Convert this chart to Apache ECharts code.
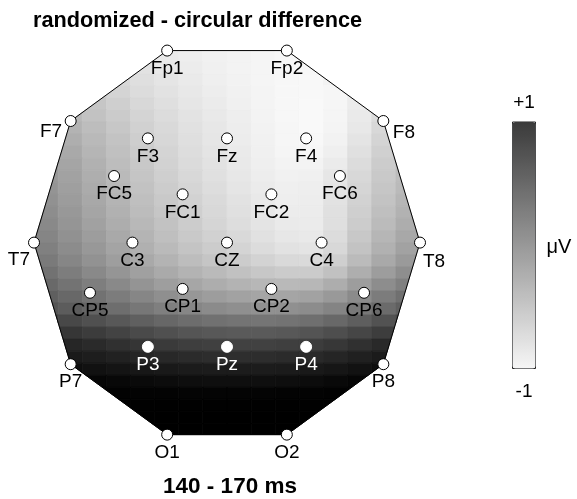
<!DOCTYPE html>
<html>
<head>
<meta charset="utf-8">
<script src="https://cdn.jsdelivr.net/npm/echarts@6/dist/echarts.min.js"></script>
<style>html,body{margin:0;padding:0;background:#fff}#c{width:577px;height:499px}</style>
</head>
<body>
<div id="c"></div>
<script>
// ---- data ----
const titleText = 'randomized - circular difference';
const windowText = '140 - 170 ms';
const unitText = 'μV';
const scaleLabels = ['+1', '-1'];
const scaleRange = [-1, 1];

const electrodeNames = ['Fp1','Fp2','F7','F3','Fz','F4','F8','FC5','FC1','FC2','FC6','T7','C3','CZ','C4','T8','CP5','CP1','CP2','CP6','P7','P3','Pz','P4','P8','O1','O2'];
const electrodeX = [-0.31,0.31,-0.81,-0.41,0,0.41,0.81,-0.585,-0.23,0.23,0.585,-1,-0.49,0,0.49,1,-0.71,-0.23,0.23,0.71,-0.81,-0.41,0,0.41,0.81,-0.31,0.31];
const electrodeY = [0.995,0.995,0.63,0.54,0.54,0.54,0.63,0.345,0.25,0.25,0.345,0,0,0,0,0,-0.26,-0.24,-0.24,-0.26,-0.63,-0.54,-0.54,-0.54,-0.63,-0.995,-0.995];
const outlineOrder = ['Fp1','Fp2','F8','T8','P8','O2','O1','P7','T7','F7'];

// sample grid of the interpolated map (head coordinates)
const gridX = [-0.9375,-0.8125,-0.6875,-0.5625,-0.4375,-0.3125,-0.1875,-0.0625,0.0625,0.1875,0.3125,0.4375,0.5625,0.6875,0.8125,0.9375];
const gridY = [0.96875,0.90625,0.84375,0.78125,0.71875,0.65625,0.59375,0.53125,0.46875,0.40625,0.34375,0.28125,0.21875,0.15625,0.09375,0.03125,
  -0.03125,-0.09375,-0.15625,-0.21875,-0.28125,-0.34375,-0.40625,-0.46875,-0.53125,-0.59375,-0.65625,-0.71875,-0.78125,-0.84375,-0.90625,-0.96875];
// map values in µV, one row per gridY, one column per gridX
const mapValues = [
 [null,null,null,null,-0.80,-0.84,-0.88,-0.91,-0.93,-0.95,-0.97,-0.96,null,null,null,null],
 [null,null,null,null,-0.76,-0.82,-0.86,-0.90,-0.93,-0.95,-0.97,-0.97,null,null,null,null],
 [null,null,null,-0.66,-0.73,-0.79,-0.84,-0.89,-0.92,-0.95,-0.97,-0.98,-0.93,null,null,null],
 [null,null,-0.54,-0.62,-0.70,-0.76,-0.82,-0.87,-0.91,-0.94,-0.97,-0.98,-0.96,-0.88,null,null],
 [null,null,-0.48,-0.57,-0.66,-0.73,-0.80,-0.85,-0.90,-0.94,-0.97,-0.99,-0.96,-0.86,null,null],
 [null,-0.34,-0.44,-0.53,-0.62,-0.70,-0.77,-0.83,-0.88,-0.93,-0.97,-0.99,-0.95,-0.84,-0.70,null],
 [null,-0.29,-0.39,-0.49,-0.59,-0.67,-0.75,-0.81,-0.87,-0.92,-0.96,-0.99,-0.94,-0.82,-0.66,null],
 [null,-0.24,-0.35,-0.45,-0.56,-0.65,-0.73,-0.80,-0.86,-0.91,-0.96,-0.98,-0.92,-0.78,-0.62,null],
 [null,-0.19,-0.31,-0.42,-0.53,-0.62,-0.71,-0.78,-0.84,-0.90,-0.95,-0.96,-0.89,-0.74,-0.58,null],
 [-0.06,-0.15,-0.27,-0.39,-0.50,-0.60,-0.69,-0.76,-0.83,-0.89,-0.93,-0.93,-0.85,-0.70,-0.54,-0.42],
 [-0.02,-0.12,-0.24,-0.36,-0.47,-0.57,-0.66,-0.74,-0.81,-0.87,-0.91,-0.90,-0.80,-0.66,-0.51,-0.39],
 [0.02,-0.09,-0.21,-0.33,-0.44,-0.54,-0.63,-0.71,-0.79,-0.85,-0.89,-0.88,-0.78,-0.63,-0.48,-0.36],
 [0.05,-0.06,-0.18,-0.30,-0.41,-0.51,-0.60,-0.68,-0.76,-0.83,-0.88,-0.87,-0.76,-0.60,-0.45,-0.32],
 [0.09,-0.02,-0.15,-0.27,-0.38,-0.48,-0.57,-0.66,-0.74,-0.81,-0.86,-0.86,-0.74,-0.57,-0.41,-0.28],
 [0.13,0.01,-0.11,-0.23,-0.34,-0.44,-0.54,-0.63,-0.71,-0.78,-0.84,-0.85,-0.73,-0.54,-0.37,-0.23],
 [0.17,0.05,-0.07,-0.19,-0.30,-0.41,-0.51,-0.59,-0.67,-0.75,-0.81,-0.83,-0.70,-0.50,-0.32,-0.18],
 [0.22,0.10,-0.02,-0.14,-0.26,-0.36,-0.46,-0.54,-0.62,-0.70,-0.76,-0.78,-0.66,-0.45,-0.27,-0.12],
 [0.28,0.16,0.04,-0.08,-0.19,-0.29,-0.39,-0.47,-0.54,-0.61,-0.67,-0.68,-0.57,-0.37,-0.19,-0.04],
 [0.36,0.25,0.13,0.01,-0.10,-0.20,-0.29,-0.36,-0.43,-0.49,-0.53,-0.53,-0.43,-0.24,-0.07,0.08],
 [0.45,0.35,0.24,0.13,0.02,-0.08,-0.16,-0.23,-0.29,-0.33,-0.35,-0.33,-0.23,-0.07,0.09,0.22],
 [0.55,0.46,0.36,0.26,0.16,0.07,-0.01,-0.07,-0.12,-0.15,-0.15,-0.12,-0.03,0.11,0.26,0.38],
 [0.66,0.58,0.49,0.40,0.31,0.23,0.16,0.11,0.07,0.05,0.06,0.10,0.18,0.30,0.43,0.54],
 [0.84,0.78,0.70,0.62,0.54,0.47,0.41,0.37,0.34,0.33,0.35,0.39,0.46,0.56,0.68,0.78],
 [null,0.96,0.90,0.83,0.76,0.70,0.65,0.62,0.60,0.60,0.62,0.66,0.72,0.80,0.89,null],
 [null,1.12,1.08,1.02,0.97,0.92,0.88,0.86,0.85,0.85,0.87,0.90,0.95,1.02,1.09,null],
 [null,1.24,1.21,1.17,1.13,1.10,1.07,1.05,1.04,1.05,1.07,1.09,1.13,1.18,1.23,null],
 [null,1.36,1.33,1.30,1.27,1.25,1.23,1.22,1.22,1.22,1.23,1.25,1.28,1.32,1.36,null],
 [null,null,1.44,1.42,1.40,1.38,1.36,1.35,1.35,1.35,1.36,1.38,1.41,1.44,null,null],
 [null,null,1.48,1.48,1.47,1.47,1.46,1.46,1.46,1.46,1.47,1.47,1.48,1.48,null,null],
 [null,null,null,1.49,1.49,1.49,1.49,1.49,1.49,1.49,1.49,1.49,1.49,null,null,null],
 [null,null,null,null,1.5,1.5,1.5,1.5,1.5,1.5,1.5,1.5,null,null,null,null],
 [null,null,null,null,1.5,1.5,1.5,1.5,1.5,1.5,1.5,1.5,null,null,null,null]
];

// ---- build ----
const FONT = "'Liberation Sans', Arial, Helvetica, sans-serif";
const idx = {};
electrodeNames.forEach((n, i) => idx[n] = i);
const headPoly = outlineOrder.map(n => [electrodeX[idx[n]], electrodeY[idx[n]]]);
const cellW = Math.abs(gridX[1] - gridX[0]);
const cellH = Math.abs(gridY[1] - gridY[0]);

let area = 0;
for (let i = 0; i < headPoly.length; i++) {
  const a = headPoly[i], b = headPoly[(i + 1) % headPoly.length];
  area += a[0] * b[1] - b[0] * a[1];
}
const orient = area > 0 ? 1 : -1;

function clipPoly(subject, clipper) {
  let out = subject;
  for (let i = 0; i < clipper.length; i++) {
    const a = clipper[i], b = clipper[(i + 1) % clipper.length];
    const inp = out; out = [];
    if (!inp.length) break;
    const side = p => orient * ((b[0] - a[0]) * (p[1] - a[1]) - (b[1] - a[1]) * (p[0] - a[0]));
    for (let j = 0; j < inp.length; j++) {
      const p = inp[j], q = inp[(j + 1) % inp.length];
      const sp = side(p), sq = side(q);
      if (sp >= 0) out.push(p);
      if ((sp >= 0) !== (sq >= 0)) {
        const t = sp / (sp - sq);
        out.push([p[0] + t * (q[0] - p[0]), p[1] + t * (q[1] - p[1])]);
      }
    }
  }
  return out;
}

const cells = [];
gridY.forEach((y, r) => gridX.forEach((x, c) => {
  const v = mapValues[r][c];
  if (v !== null && v !== undefined) cells.push([x, y, v]);
}));

const whiteLabels = { P3: 1, Pz: 1, P4: 1 };
const labelTweaks = {
  F7: { position: 'left', distance: 2.5, offset: [0, 11] },
  F8: { position: 'right', distance: 3.5, offset: [0, 12] },
  T7: { position: 'left', distance: -2, offset: [0, 17] },
  T8: { position: 'right', distance: -3, offset: [0, 19] }
};
const electrodeData = electrodeNames.map((n, i) => {
  const white = !!whiteLabels[n];
  return {
    name: n,
    value: [electrodeX[i], electrodeY[i]],
    itemStyle: { color: '#fff', borderColor: white ? '#fff' : '#000', borderWidth: 1, opacity: 1 },
    label: Object.assign({ show: true, formatter: n, color: white ? '#fff' : '#000', fontSize: 19, fontFamily: FONT, opacity: 1 }, labelTweaks[n] || {})
  };
});

const outlineData = outlineOrder.concat([outlineOrder[0]]).map(n => [electrodeX[idx[n]], electrodeY[idx[n]]]);

const chart = echarts.init(document.getElementById('c'), null, { renderer: 'canvas' });
chart.setOption({
  animation: false,
  backgroundColor: '#fff',
  grid: { left: 34, top: 49.6, width: 386, height: 386 },
  xAxis: { type: 'value', min: -1, max: 1, show: false },
  yAxis: { type: 'value', min: -1, max: 1, show: false },
  visualMap: [
    { type: 'continuous', show: false, seriesIndex: 0, dimension: 2, min: -1, max: 1.5,
      inRange: { color: ['#fafafa', '#000000'] } },
    { type: 'continuous', show: true, seriesIndex: 3, min: scaleRange[0], max: scaleRange[1],
      calculable: false, realtime: false, hoverLink: false,
      left: 512, top: 121.5, itemWidth: 23, itemHeight: 246.5, padding: 0,
      text: null, showLabel: false,
      borderColor: '#222', borderWidth: 1,
      inRange: { color: ['#f6f6f6', '#3a3a3a'] } }
  ],
  graphic: [
    { type: 'text', z: 10, style: { text: titleText, x: 197.5, y: 20.6, textAlign: 'center', textVerticalAlign: 'middle', font: 'bold 21.7px ' + FONT, fill: '#000' } },
    { type: 'text', z: 10, style: { text: windowText, x: 230, y: 487, textAlign: 'center', textVerticalAlign: 'middle', font: 'bold 22.5px ' + FONT, fill: '#000' } },
    { type: 'text', z: 10, style: { text: scaleLabels[0], x: 524, y: 103, textAlign: 'center', textVerticalAlign: 'middle', font: '19px ' + FONT, fill: '#000' } },
    { type: 'text', z: 10, style: { text: scaleLabels[1], x: 524, y: 392, textAlign: 'center', textVerticalAlign: 'middle', font: '19px ' + FONT, fill: '#000' } },
    { type: 'text', z: 10, style: { text: unitText, x: 559, y: 247, textAlign: 'center', textVerticalAlign: 'middle', font: '20px ' + FONT, fill: '#000' } }
  ],
  series: [
    {
      type: 'custom', coordinateSystem: 'cartesian2d', z: 1, silent: true,
      encode: { x: 0, y: 1 },
      data: cells,
      renderItem: function (params, api) {
        const cx = api.value(0), cy = api.value(1);
        const hw = cellW / 2, hh = cellH / 2;
        const poly = clipPoly([[cx - hw, cy - hh], [cx + hw, cy - hh], [cx + hw, cy + hh], [cx - hw, cy + hh]], headPoly);
        if (poly.length < 3) return null;
        const color = api.visual('color');
        return { type: 'polygon', shape: { points: poly.map(p => api.coord(p)) }, style: { fill: color, stroke: color, lineWidth: 0.8 } };
      }
    },
    {
      type: 'line', z: 2, silent: true, data: outlineData, symbol: 'none',
      lineStyle: { color: '#000', width: 1 }
    },
    {
      type: 'scatter', z: 3, silent: true, symbol: 'circle', symbolSize: 11,
      data: electrodeData,
      itemStyle: { opacity: 1 },
      label: { show: true, position: 'bottom', distance: 2.5, fontFamily: FONT, fontSize: 19, color: '#000' }
    },
    { type: 'scatter', data: [], silent: true }
  ]
});
</script>
</body>
</html>
